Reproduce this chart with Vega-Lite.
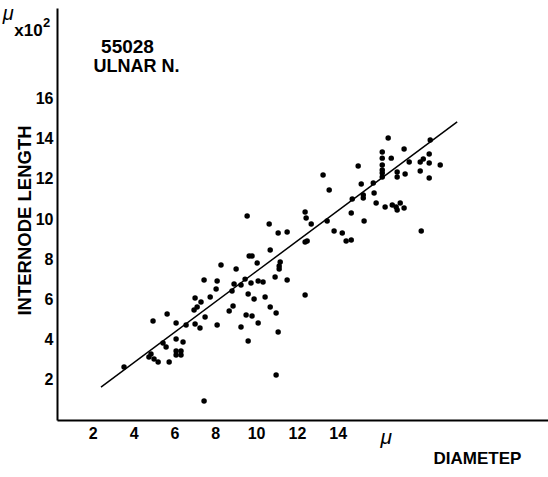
{
  "$schema": "https://vega.github.io/schema/vega-lite/v6.json",
  "width": 491,
  "height": 412,
  "autosize": {"type": "none"},
  "padding": {"left": 57, "top": 8, "right": 0, "bottom": 57},
  "background": "white",
  "config": {
    "view": {"stroke": null},
    "font": "Liberation Sans",
    "axis": {"grid": false, "ticks": false, "domainColor": "black", "domainWidth": 2, "labelColor": "black", "labelFont": "Liberation Sans", "labelFontWeight": "bold", "titleFont": "Liberation Sans", "titleFontWeight": "bold", "titleColor": "black"}
  },
  "datasets": {
    "pts": [
      {"d": 3.53, "l": 2.64}, {"d": 4.95, "l": 4.93}, {"d": 5.64, "l": 5.27}, {"d": 6.08, "l": 4.83},
      {"d": 5.44, "l": 3.83}, {"d": 5.59, "l": 3.63}, {"d": 4.75, "l": 3.13}, {"d": 4.85, "l": 3.28},
      {"d": 5.0, "l": 3.03}, {"d": 5.2, "l": 2.89}, {"d": 5.74, "l": 2.89}, {"d": 6.08, "l": 4.03},
      {"d": 6.42, "l": 3.88}, {"d": 6.08, "l": 3.43}, {"d": 6.08, "l": 3.23}, {"d": 6.32, "l": 3.43},
      {"d": 6.32, "l": 3.23}, {"d": 6.57, "l": 4.73}, {"d": 7.01, "l": 4.78}, {"d": 7.25, "l": 4.58},
      {"d": 7.5, "l": 5.12}, {"d": 6.96, "l": 5.47}, {"d": 7.11, "l": 5.62}, {"d": 7.3, "l": 5.87},
      {"d": 7.01, "l": 6.07}, {"d": 7.75, "l": 6.12}, {"d": 8.09, "l": 4.73}, {"d": 7.45, "l": 0.95},
      {"d": 7.45, "l": 6.97}, {"d": 8.09, "l": 6.92}, {"d": 8.04, "l": 6.52}, {"d": 8.28, "l": 7.71},
      {"d": 9.02, "l": 7.51}, {"d": 8.92, "l": 6.77}, {"d": 9.26, "l": 6.72}, {"d": 9.46, "l": 7.01},
      {"d": 9.75, "l": 6.82}, {"d": 10.1, "l": 6.92}, {"d": 10.34, "l": 6.87}, {"d": 10.93, "l": 7.11},
      {"d": 11.52, "l": 6.97}, {"d": 8.82, "l": 6.42}, {"d": 9.61, "l": 6.27}, {"d": 9.9, "l": 6.02},
      {"d": 10.44, "l": 6.12}, {"d": 10.69, "l": 5.62}, {"d": 10.98, "l": 5.32}, {"d": 12.4, "l": 6.22},
      {"d": 8.87, "l": 5.67}, {"d": 8.68, "l": 5.42}, {"d": 9.51, "l": 5.22}, {"d": 9.8, "l": 5.17},
      {"d": 9.26, "l": 4.63}, {"d": 10.1, "l": 4.83}, {"d": 11.08, "l": 4.38}, {"d": 9.61, "l": 3.93},
      {"d": 10.98, "l": 2.24}, {"d": 9.56, "l": 10.15}, {"d": 10.64, "l": 9.75}, {"d": 11.08, "l": 9.3},
      {"d": 11.52, "l": 9.35}, {"d": 12.4, "l": 10.35}, {"d": 12.45, "l": 10.05}, {"d": 12.7, "l": 9.75},
      {"d": 12.4, "l": 8.86}, {"d": 12.5, "l": 8.91}, {"d": 9.66, "l": 8.16}, {"d": 9.8, "l": 8.16},
      {"d": 10.69, "l": 8.46}, {"d": 10.05, "l": 7.81}, {"d": 11.18, "l": 7.86}, {"d": 11.13, "l": 7.66},
      {"d": 11.13, "l": 7.51}, {"d": 13.28, "l": 12.19}, {"d": 13.58, "l": 11.44}, {"d": 13.48, "l": 9.9},
      {"d": 13.82, "l": 9.4}, {"d": 14.22, "l": 9.3}, {"d": 14.41, "l": 8.91}, {"d": 14.66, "l": 8.96},
      {"d": 14.66, "l": 10.3}, {"d": 14.71, "l": 11.0}, {"d": 15.0, "l": 12.64}, {"d": 15.15, "l": 11.74},
      {"d": 15.25, "l": 11.19}, {"d": 15.25, "l": 11.04}, {"d": 15.29, "l": 9.9}, {"d": 15.74, "l": 11.79},
      {"d": 15.78, "l": 11.29}, {"d": 15.88, "l": 10.8}, {"d": 16.32, "l": 10.6}, {"d": 16.67, "l": 10.7},
      {"d": 16.86, "l": 10.6}, {"d": 17.06, "l": 10.8}, {"d": 16.91, "l": 10.45}, {"d": 17.25, "l": 10.55},
      {"d": 16.47, "l": 14.03}, {"d": 18.53, "l": 13.93}, {"d": 17.25, "l": 13.48}, {"d": 16.18, "l": 13.33},
      {"d": 16.18, "l": 13.03}, {"d": 16.18, "l": 12.69}, {"d": 16.18, "l": 12.44}, {"d": 16.18, "l": 12.29},
      {"d": 16.18, "l": 12.09}, {"d": 16.62, "l": 13.03}, {"d": 17.5, "l": 12.84}, {"d": 18.04, "l": 12.84},
      {"d": 18.19, "l": 12.99}, {"d": 18.48, "l": 13.23}, {"d": 18.48, "l": 12.79}, {"d": 18.04, "l": 12.39},
      {"d": 18.48, "l": 12.04}, {"d": 19.02, "l": 12.69}, {"d": 16.91, "l": 12.34}, {"d": 16.91, "l": 12.09},
      {"d": 17.3, "l": 12.24}, {"d": 18.09, "l": 9.4}
    ],
    "fit": [
      {"d": 2.4, "l": 1.64},
      {"d": 19.85, "l": 14.83}
    ],
    "one": [{}]
  },
  "layer": [
    {
      "data": {"name": "pts"},
      "mark": {"type": "circle", "color": "black", "opacity": 1, "size": 30},
      "encoding": {
        "x": {"field": "d", "type": "quantitative", "scale": {"domain": [0.245, 24.3], "nice": false, "zero": false},
          "axis": {"values": [2, 4, 6, 8, 10, 12, 14], "labelFontSize": 16, "labelPadding": 5, "labelFlush": false,
            "title": "DIAMETEP", "titleFontSize": 17, "titleX": 420, "titleY": 43, "titleAlign": "center", "titleBaseline": "alphabetic"}},
        "y": {"field": "l", "type": "quantitative", "scale": {"domain": [0, 20.5], "nice": false, "zero": false},
          "axis": {"values": [2, 4, 6, 8, 10, 12, 14, 16], "labelFontSize": 16, "labelPadding": 4, "labelFlush": false,
            "title": "INTERNODE LENGTH", "titleFontSize": 18.5, "titleX": -27, "titleY": 212, "titleAlign": "center", "titleBaseline": "alphabetic", "titleAngle": 270}}
      }
    },
    {
      "data": {"name": "fit"},
      "mark": {"type": "line", "color": "black", "strokeWidth": 1.5},
      "encoding": {
        "x": {"field": "d", "type": "quantitative"},
        "y": {"field": "l", "type": "quantitative"}
      }
    },
    {
      "data": {"name": "one"},
      "mark": {"type": "text", "text": "55028", "fontSize": 19, "fontWeight": "bold", "align": "center", "baseline": "middle", "color": "black"},
      "encoding": {"x": {"datum": 3.7, "type": "quantitative"}, "y": {"datum": 18.58, "type": "quantitative"}}
    },
    {
      "data": {"name": "one"},
      "mark": {"type": "text", "text": "ULNAR  N.", "fontSize": 18, "fontWeight": "bold", "align": "center", "baseline": "middle", "color": "black"},
      "encoding": {"x": {"datum": 4.14, "type": "quantitative"}, "y": {"datum": 17.56, "type": "quantitative"}}
    },
    {
      "data": {"name": "one"},
      "mark": {"type": "text", "text": "μ", "fontSize": 20, "fontStyle": "italic", "align": "center", "baseline": "alphabetic", "color": "black"},
      "encoding": {"x": {"datum": -2.15, "type": "quantitative"}, "y": {"datum": 19.9, "type": "quantitative"}}
    },
    {
      "data": {"name": "one"},
      "mark": {"type": "text", "text": "x10", "fontSize": 17, "fontWeight": "bold", "align": "center", "baseline": "alphabetic", "color": "black"},
      "encoding": {"x": {"datum": -1.15, "type": "quantitative"}, "y": {"datum": 19.1, "type": "quantitative"}}
    },
    {
      "data": {"name": "one"},
      "mark": {"type": "text", "text": "2", "fontSize": 13, "fontWeight": "bold", "align": "center", "baseline": "alphabetic", "color": "black"},
      "encoding": {"x": {"datum": -0.26, "type": "quantitative"}, "y": {"datum": 19.55, "type": "quantitative"}}
    },
    {
      "data": {"name": "one"},
      "mark": {"type": "text", "text": "μ", "fontSize": 21, "fontStyle": "italic", "align": "center", "baseline": "alphabetic", "color": "black"},
      "encoding": {"x": {"datum": 16.37, "type": "quantitative"}, "y": {"datum": -1.19, "type": "quantitative"}}
    }
  ]
}
